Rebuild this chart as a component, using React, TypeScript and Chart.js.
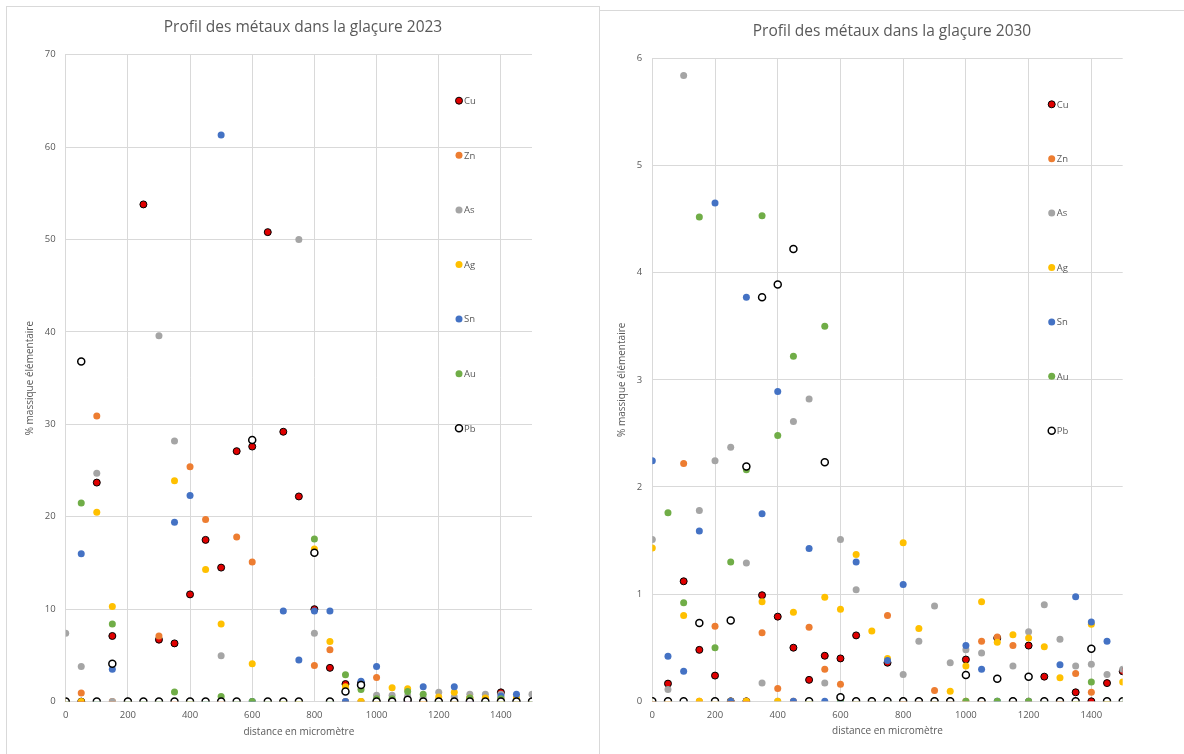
import React, { useEffect, useRef } from 'react';
import { Chart, registerables } from 'chart.js';

Chart.register(...registerables);

// ---------- DATA ----------
const distances = [0, 50, 100, 150, 200, 250, 300, 350, 400, 450, 500, 550, 600, 650, 700, 750, 800, 850, 900, 950, 1000, 1050, 1100, 1150, 1200, 1250, 1300, 1350, 1400, 1450, 1500];

const seriesNames = ['Cu', 'Zn', 'As', 'Ag', 'Sn', 'Au', 'Pb'];

// 2023
const cu2023 = [0, 0, 23.7, 7.1, 0, 53.8, 6.7, 6.3, 11.6, 17.5, 14.5, 27.1, 27.6, 50.8, 29.2, 22.2, 10.0, 3.65, 1.9, 2.0, 0, 0, 0, 0, 0, 0, 0, 0, 1.0, 0, 0];
const zn2023 = [0, 0.94, 30.9, 0, 0, 0, 7.1, 0, 25.4, 19.7, 0, 17.8, 15.1, 0, 0, 0, 3.9, 5.6, 0, 0, 2.6, 0, 0, 0, 0, 0, 0.4, 0.4, 0.4, 0, 0];
const as2023 = [7.4, 3.8, 24.7, 0, 0, 0, 39.6, 28.2, 0, 0, 4.95, 0, 0, 0, 0, 50.0, 7.4, 0, 0, 0, 0.7, 0.7, 0.6, 0.4, 1.0, 0.5, 0.8, 0.8, 0.8, 0.4, 0.8];
const ag2023 = [0, 0, 20.5, 10.3, 0, 0, 0, 23.9, 0, 14.3, 8.4, 0, 4.1, 0, 0, 0, 16.5, 6.5, 1.6, 0, 0, 1.5, 1.4, 0, 0.5, 1.0, 0.4, 0.4, 0, 0.4, 0];
const sn2023 = [0, 16.0, 0, 3.5, 0, 0, 0, 19.4, 22.3, 0, 61.3, 0, 0, 0, 9.8, 4.5, 9.8, 9.8, 0, 2.2, 3.8, 0, 0, 1.6, 0, 1.6, 0, 0, 0.6, 0.8, 0];
const au2023 = [0, 21.5, 0, 8.4, 0, 0, 0, 1.05, 0, 0, 0.54, 0, 0, 0, 0, 0, 17.6, 0, 2.9, 1.3, 0.3, 0.3, 1.1, 0.8, 0, 0, 0.4, 0, 0.3, 0, 0];
const pb2023 = [0, 36.8, 0, 4.1, 0, 0, 0, 0, 0, 0, 0, 0, 28.3, 0, 0, 0, 16.1, 0, 1.1, 1.8, 0, 0, 0.2, 0, 0, 0, 0, 0, 0, 0, 0];

// 2030
const cu2030 = [0, 0.165, 1.12, 0.48, 0.24, 0, 0, 0.99, 0.79, 0.5, 0.2, 0.425, 0.4, 0.615, 0, 0.36, 0, 0, 0, 0, 0.39, 0, 0.59, 0, 0.52, 0.23, 0, 0.084, 0, 0.17, 0.28];
const zn2030 = [0, 0, 2.22, 0, 0.7, 0, 0, 0.64, 0.12, 0, 0.69, 0.3, 0.16, 0, 0, 0.8, 0, 0, 0.1, 0, 0, 0.56, 0.6, 0.52, 0, 0, 0, 0.26, 0.084, 0, 0];
const as2030 = [1.51, 0.11, 5.84, 1.78, 2.245, 2.37, 1.29, 0.17, 0, 2.61, 2.82, 0.17, 1.51, 1.04, 0, 0, 0.25, 0.56, 0.89, 0.36, 0.48, 0.45, 0, 0.33, 0.65, 0.9, 0.58, 0.33, 0.345, 0.25, 0.3];
const ag2030 = [1.43, 0, 0.8, 0, 0, 0, 0, 0.93, 0, 0.83, 0, 0.97, 0.86, 1.37, 0.655, 0.4, 1.48, 0.68, 0, 0.093, 0.33, 0.93, 0.55, 0.62, 0.59, 0.51, 0.22, 0, 0.72, 0, 0.18];
const sn2030 = [2.245, 0.42, 0.28, 1.59, 4.65, 0, 3.77, 1.75, 2.89, 0, 1.425, 0, 0, 1.3, 0, 0.38, 1.09, 0, 0, 0, 0.52, 0.3, 0, 0, 0, 0, 0.34, 0.975, 0.74, 0.56, 0];
const au2030 = [0, 1.76, 0.92, 4.52, 0.5, 1.3, 2.16, 4.53, 2.48, 3.22, 0, 3.5, 0, 0, 0, 0, 0, 0, 0, 0, 0, 0, 0, 0, 0, 0, 0, 0, 0.18, 0, 0];
const pb2030 = [0, 0, 0, 0.73, 0, 0.755, 2.19, 3.77, 3.89, 4.22, 0, 2.23, 0.037, 0, 0, 0, 0, 0, 0, 0, 0.245, 0, 0.21, 0, 0.23, 0, 0, 0, 0.49, 0, 0];

const xTickValues = [0, 200, 400, 600, 800, 1000, 1200, 1400];
const yTickValues2023 = [0, 10, 20, 30, 40, 50, 60, 70];
const yTickValues2030 = [0, 1, 2, 3, 4, 5, 6];

// ---------- STYLE ----------
const fillColors = ['#e00000', '#ed7d31', '#a5a5a5', '#ffc000', '#4472c4', '#70ad47', '#ffffff'];
const strokeColors = ['#000000', '#ed7d31', '#a5a5a5', '#ffc000', '#4472c4', '#70ad47', '#000000'];
const strokeWidths = [1, 0, 0, 0, 0, 0, 1.5];

const FONT = '"Open Sans", "Noto Sans", sans-serif';
const TEXT = '#595959';
const GRID = '#d9d9d9';

const insideLegend = {
  id: 'insideLegend',
  afterDatasetsDraw(chart: any, _args: any, opts: any) {
    const { ctx, chartArea } = chart;
    ctx.save();
    chart.data.datasets.forEach((ds: any, i: number) => {
      const x = chartArea.right - opts.offsetRight;
      const y = chartArea.top + opts.offsetTop + i * opts.spacing;
      ctx.beginPath();
      ctx.arc(x, y, 3.5, 0, Math.PI * 2);
      ctx.fillStyle = ds.backgroundColor;
      ctx.fill();
      if (ds.borderWidth > 0) {
        ctx.lineWidth = ds.borderWidth;
        ctx.strokeStyle = ds.borderColor;
        ctx.stroke();
      }
      ctx.fillStyle = TEXT;
      ctx.font = `9.5px ${FONT}`;
      ctx.textAlign = 'left';
      ctx.textBaseline = 'middle';
      ctx.fillText(ds.label, x + 5, y + 0.5);
    });
    ctx.restore();
  },
};

// Title centred on the whole canvas (like the spreadsheet chart title)
const canvasTitle = {
  id: 'canvasTitle',
  afterDraw(chart: any, _args: any, opts: any) {
    const { ctx } = chart;
    ctx.save();
    ctx.fillStyle = TEXT;
    ctx.font = `15.5px ${FONT}`;
    ctx.textAlign = 'center';
    ctx.textBaseline = 'middle';
    ctx.fillText(opts.text, chart.width / 2, opts.y);
    ctx.restore();
  },
};

type Cfg = {
  title: string;
  titleY: number;
  series: number[][];
  yMax: number;
  yTicks: number[];
  padRight: number;
  padTop: number;
  yWidth: number;
  yTitlePad: number;
  xHeight: number;
  xTitlePad: number;
  legendRight: number;
  legendTop: number;
  legendSpacing: number;
};

function makeConfig(c: Cfg): any {
  const datasets = seriesNames.map((name, i) => ({
    label: name,
    data: distances.map((d, k) => ({ x: d, y: c.series[i][k] })),
    backgroundColor: fillColors[i],
    borderColor: strokeColors[i],
    borderWidth: strokeWidths[i],
    pointRadius: 3.5,
    pointHoverRadius: 3.5,
    showLine: false,
    order: seriesNames.length - 1 - i,
  }));
  return {
    type: 'scatter',
    data: { datasets },
    plugins: [insideLegend, canvasTitle],
    options: {
      animation: false,
      responsive: false,
      events: [],
      layout: { padding: { left: 0, top: c.padTop, right: c.padRight, bottom: 0 } },
      plugins: {
        legend: { display: false },
        tooltip: { enabled: false },
        title: { display: false },
        canvasTitle: { text: c.title, y: c.titleY },
        insideLegend: { offsetRight: c.legendRight, offsetTop: c.legendTop, spacing: c.legendSpacing },
      },
      scales: {
        x: {
          type: 'linear',
          min: 0,
          max: 1500,
          afterBuildTicks: (s: any) => {
            s.ticks = xTickValues.map((v) => ({ value: v }));
          },
          afterFit: (s: any) => {
            s.height = c.xHeight;
          },
          grid: { color: GRID, lineWidth: 1, drawTicks: false },
          border: { color: GRID, width: 1 },
          ticks: {
            color: TEXT,
            font: { family: FONT, size: 9.5 },
            padding: 8,
            maxRotation: 0,
            callback: (v: any) => String(v),
          },
          title: {
            display: true,
            text: 'distance en micromètre',
            color: TEXT,
            font: { family: FONT, size: 10, lineHeight: 1.2 },
            padding: { top: 0, bottom: c.xTitlePad },
          },
        },
        y: {
          type: 'linear',
          min: 0,
          max: c.yMax,
          afterBuildTicks: (s: any) => {
            s.ticks = c.yTicks.map((v) => ({ value: v }));
          },
          afterFit: (s: any) => {
            s.width = c.yWidth;
          },
          grid: { color: GRID, lineWidth: 1, drawTicks: false },
          border: { color: GRID, width: 1 },
          ticks: { color: TEXT, font: { family: FONT, size: 9.5 }, padding: 10, callback: (v: any) => String(v) },
          title: {
            display: true,
            text: '% massique élémentaire',
            color: TEXT,
            font: { family: FONT, size: 10, lineHeight: 1.2 },
            padding: { top: c.yTitlePad, bottom: 0 },
          },
        },
      },
    },
  };
}

function ChartCanvas({ cfg, width, height }: { cfg: Cfg; width: number; height: number }) {
  const ref = useRef<HTMLCanvasElement | null>(null);
  useEffect(() => {
    if (!ref.current) return;
    const chart = new Chart(ref.current, makeConfig(cfg));
    return () => chart.destroy();
  }, []);
  return <canvas ref={ref} width={width} height={height} style={{ display: 'block', width, height }} />;
}

const cfg2023: Cfg = {
  title: 'Profil des métaux dans la glaçure 2023',
  titleY: 21,
  series: [cu2023, zn2023, as2023, ag2023, sn2023, au2023, pb2023],
  yMax: 70,
  yTicks: yTickValues2023,
  padRight: 67,
  padTop: 47.7,
  yWidth: 58.7,
  yTitlePad: 17,
  xHeight: 52.4,
  xTitlePad: 16,
  legendRight: 73,
  legendTop: 46,
  legendSpacing: 54.6,
};

const cfg2030: Cfg = {
  title: 'Profil des métaux dans la glaçure 2030',
  titleY: 21,
  series: [cu2030, zn2030, as2030, ag2030, sn2030, au2030, pb2030],
  yMax: 6,
  yTicks: yTickValues2030,
  padRight: 61.3,
  padTop: 47.3,
  yWidth: 52.3,
  yTitlePad: 16,
  xHeight: 52.7,
  xTitlePad: 17,
  legendRight: 71,
  legendTop: 46,
  legendSpacing: 54.4,
};

export default function App() {
  return (
    <div style={{ position: 'fixed', left: 0, top: 0, width: 1184, height: 754, overflow: 'hidden', background: '#ffffff' }}>
      <div style={{ position: 'absolute', left: 6, top: 6, width: 594, height: 760, boxSizing: 'border-box', border: '1px solid #d9d9d9', background: '#fff' }}>
        <ChartCanvas cfg={cfg2023} width={592} height={747} />
      </div>
      <div style={{ position: 'absolute', left: 599, top: 10, width: 600, height: 760, boxSizing: 'border-box', border: '1px solid #d9d9d9', background: '#fff' }}>
        <ChartCanvas cfg={cfg2030} width={584} height={743} />
      </div>
    </div>
  );
}
